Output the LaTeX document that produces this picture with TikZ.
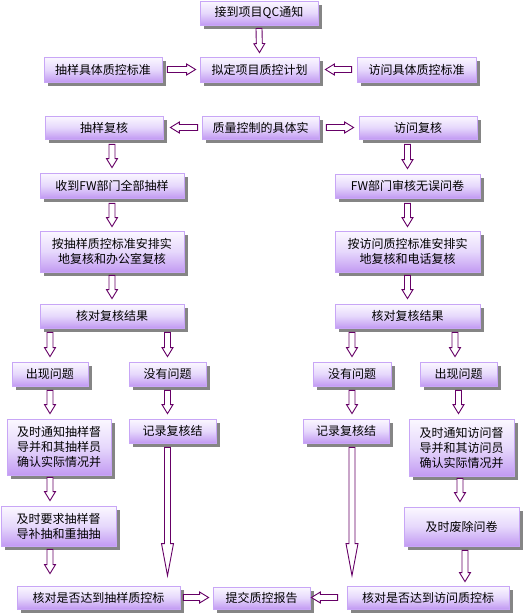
\documentclass[tikz,border=0pt]{standalone}
\usepackage{fontspec}
\newfontfamily\cjk{Noto Sans CJK SC}
\usetikzlibrary{calc,shadows}
\definecolor{boxtop}{HTML}{FBF8FF}
\definecolor{boxmid}{HTML}{E6D8FC}
\definecolor{boxbot}{HTML}{C29AF2}
\definecolor{boxline}{HTML}{C8A6F6}
\definecolor{shadowc}{HTML}{858585}
\definecolor{arrowc}{HTML}{660066}
\def\arrhl{9pt}
\def\arrhw{5.5pt}
\def\arrsw{3pt}
\tikzset{
  box/.style={draw=boxline, line width=0.8pt, top color=boxtop, bottom color=boxbot, middle color=boxmid,
    drop shadow={shadow xshift=3.5pt, shadow yshift=-3.5pt, fill=shadowc, opacity=1},
    inner sep=0pt, align=center, font=\cjk\fontsize{12}{15}\selectfont},
  barrow/.style={draw=arrowc, line width=0.9pt, fill=white, line join=miter,
    to path={let \p1=(\tikztostart), \p2=(\tikztotarget),
      \n1={veclen(\x2-\x1,\y2-\y1)}, \n2={atan2(\y2-\y1,\x2-\x1)} in
      {[shift={(\p1)}, rotate=\n2]
        (0pt,\arrsw) -- ({\n1-\arrhl},\arrsw) -- ({\n1-\arrhl},\arrhw) -- (\n1,0pt)
        -- ({\n1-\arrhl},-\arrhw) -- ({\n1-\arrhl},-\arrsw) -- (0pt,-\arrsw) -- cycle}}},
  longarrow/.style={barrow, /utils/exec={\def\arrhl{32pt}\def\arrhw{6pt}}}
}
\begin{document}
\begin{tikzpicture}[x=1pt,y=-1pt]
\useasboundingbox (0,0) rectangle (527,614);
% row 1
\node[box, minimum width=118pt, minimum height=24pt] (qc) at (259,13) {接到项目QC通知};
% row 2
\node[box, minimum width=118pt, minimum height=25pt] (stdA) at (103,69.5) {抽样具体质控标准};
\node[box, minimum width=119pt, minimum height=25pt] (plan) at (259.5,69.5) {拟定项目质控计划};
\node[box, minimum width=119pt, minimum height=25pt] (stdB) at (416.5,69.5) {访问具体质控标准};
% row 3
\node[box, minimum width=118pt, minimum height=23pt] (revA) at (104,127.5) {抽样复核};
\node[box, minimum width=117pt, minimum height=23pt] (impl) at (260.5,127.5) {质量控制的具体实};
\node[box, minimum width=118pt, minimum height=23pt] (revB) at (418,127.5) {访问复核};
% row 4
\node[box, minimum width=144pt, minimum height=25pt] (recA) at (112,185.5) {收到FW部门全部抽样};
\node[box, minimum width=145pt, minimum height=24pt] (recB) at (407.5,186) {FW部门审核无误问卷};
% row 5
\node[box, minimum width=144pt, minimum height=41pt] (arrA) at (112,251.5) {按抽样质控标准安排实\\地复核和办公室复核};
\node[box, minimum width=145pt, minimum height=41pt] (arrB) at (407.5,251.5) {按访问质控标准安排实\\地复核和电话复核};
% row 6
\node[box, minimum width=144pt, minimum height=24pt] (chkA) at (112,316) {核对复核结果};
\node[box, minimum width=145pt, minimum height=24pt] (chkB) at (407.5,316) {核对复核结果};
% row 7
\node[box, minimum width=76pt, minimum height=24pt] (probA) at (50,374) {出现问题};
\node[box, minimum width=77pt, minimum height=24pt] (okA) at (167.5,374) {没有问题};
\node[box, minimum width=78pt, minimum height=24pt] (okB) at (352,374) {没有问题};
\node[box, minimum width=77pt, minimum height=24pt] (probB) at (458.5,374) {出现问题};
% row 8
\node[box, minimum width=104pt, minimum height=56pt] (notA) at (59,447) {及时通知抽样督\\导并和其抽样员\\确认实际情况并};
\node[box, minimum width=87pt, minimum height=24pt] (logA) at (172.5,431) {记录复核结};
\node[box, minimum width=86pt, minimum height=24pt] (logB) at (346,431) {记录复核结};
\node[box, minimum width=105pt, minimum height=57pt] (notB) at (461.5,447.5) {及时通知访问督\\导并和其访问员\\确认实际情况并};
% row 9
\node[box, minimum width=115pt, minimum height=40pt] (redoA) at (58.5,526) {及时要求抽样督\\导补抽和重抽抽};
\node[box, minimum width=115pt, minimum height=39pt] (delB) at (461.5,526.5) {及时废除问卷};
% row 10
\node[box, minimum width=163pt, minimum height=23pt] (finA) at (98.5,597.5) {核对是否达到抽样质控标};
\node[box, minimum width=97pt, minimum height=22pt] (rep) at (261.5,598) {提交质控报告};
\node[box, minimum width=162pt, minimum height=23pt] (finB) at (428,597.5) {核对是否达到访问质控标};
\coordinate (dB) at ([xshift=3.5pt]delB.south);
\coordinate (pB) at ([xshift=-3.5pt]probB.north);
% connectors
\draw[barrow] ([yshift=-3pt]qc.south) to ([yshift=4pt]plan.north);
\draw[barrow] ([xshift=5pt]stdA.east) to ([xshift=-4pt]plan.west);
\draw[barrow] ([xshift=-5pt]stdB.west) to ([xshift=6pt]plan.east);
\draw[barrow] ([xshift=-4pt]impl.west) to ([xshift=7pt]revA.east);
\draw[barrow] ([xshift=7pt]impl.east) to ([xshift=-5pt]revB.west);
\draw[barrow] ([yshift=-5pt]revA.south -| recA.north) to ([yshift=5pt]recA.north);
\draw[barrow] ([yshift=-5pt]revB.south -| recB.north) to ([yshift=5pt]recB.north);
\draw[barrow] ([yshift=-5pt]recA.south) to ([yshift=4pt]arrA.north);
\draw[barrow] ([yshift=-5pt]recB.south) to ([yshift=4pt]arrB.north);
\draw[barrow] ([yshift=-3pt]arrA.south) to ([yshift=5pt]chkA.north);
\draw[barrow] ([yshift=-3pt]arrB.south) to ([yshift=5pt]chkB.north);
\draw[barrow] ([yshift=-4pt]chkA.south -| probA.north) to ([yshift=5pt]probA.north);
\draw[barrow] ([yshift=-4pt]chkA.south -| okA.north) to ([yshift=5pt]okA.north);
\draw[barrow] ([yshift=-4pt]chkB.south -| okB.north) to ([yshift=5pt]okB.north);
\draw[barrow] ([yshift=-4pt]chkB.south -| pB) to ([yshift=5pt]pB);
\draw[barrow] ([yshift=-4pt]probA.south) to ([yshift=5pt]notA.north -| probA.south);
\draw[barrow] ([yshift=-4pt]okA.south) to ([yshift=5pt]logA.north -| okA.south);
\draw[barrow] ([yshift=-4pt]okB.south) to ([yshift=5pt]logB.north -| okB.south);
\draw[barrow] ([yshift=-4pt]probB.south) to ([yshift=5pt]notB.north -| probB.south);
\draw[barrow] ([yshift=-2pt]notA.south -| probA.south) to ([yshift=5pt]redoA.north -| probA.south);
\draw[barrow] ([yshift=-3pt]redoA.south -| probA.south) to ([yshift=12pt]finA.north -| probA.south);
\draw[longarrow] ([yshift=-4pt]logA.south -| okA.south) to ([yshift=10pt]finA.north -| okA.south);
\draw[longarrow] ([yshift=-4pt]logB.south -| okB.south) to ([yshift=10pt]finB.north -| okB.south);
\draw[barrow] ([yshift=-2pt,xshift=-1.5pt]notB.south) to ([yshift=5pt,xshift=-1.5pt]delB.north);
\draw[barrow] ([yshift=-4pt]dB) to ([yshift=4pt]finB.north -| dB);
\draw[barrow] ([xshift=3pt]finA.east) to ([xshift=-4pt]rep.west |- finA.east);
\draw[barrow] ([xshift=-9pt]finB.west) to ([xshift=1pt]rep.east |- finB.west);
\end{tikzpicture}
\end{document}
